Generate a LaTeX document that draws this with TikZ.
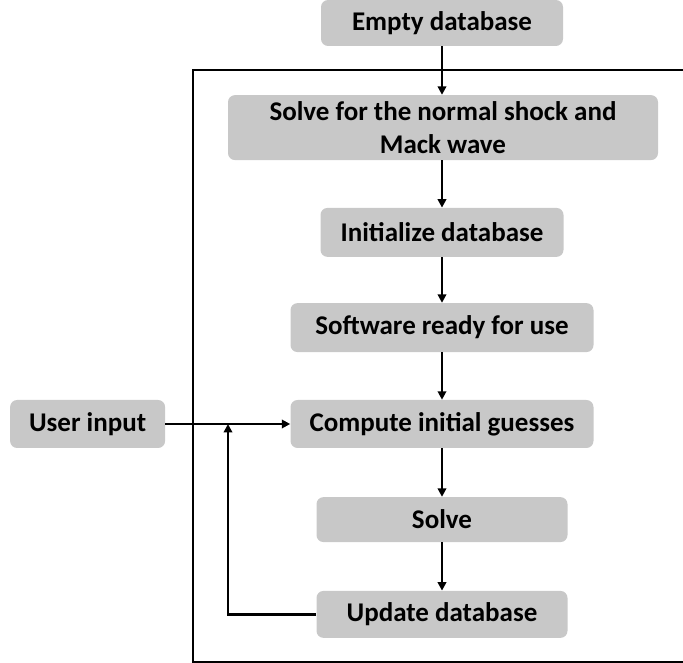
\documentclass[tikz,border=0pt]{standalone}
\usepackage{fontspec}
\setmainfont{Carlito}
\usetikzlibrary{arrows.meta}
\definecolor{boxgray}{RGB}{200,200,200}
\tikzset{
  box/.style={fill=boxgray, rounded corners=5pt, font=\bfseries\fontsize{19.2}{23}\selectfont,
    align=center, inner sep=2pt},
  flow/.style={line width=1.8pt, -{Triangle[length=6pt,width=6pt]}},
  wire/.style={line width=1.8pt}
}
\begin{document}
\begin{tikzpicture}
    \useasboundingbox (0,0) rectangle (17.075,-16.575);
    \draw[wire] (17.2,-1.75) -| (4.825,-16.55) -- (17.2,-16.55);
    \node[box, minimum width=6.05cm, minimum height=1.15cm] (empty) at (11.05,-0.575) {Empty database};
    \node[box, minimum width=10.75cm, minimum height=1.625cm] (shock) at (11.075,-3.19) {Solve for the normal shock and\\Mack wave};
    \node[box, minimum width=6.075cm, minimum height=1.225cm] (init) at (11.05,-5.81) {Initialize database};
    \node[box, minimum width=7.575cm, minimum height=1.225cm] (ready) at (11.05,-8.19) {Software ready for use};
    \node[box, minimum width=7.575cm, minimum height=1.2cm] (guess) at (11.05,-10.6) {Compute initial guesses};
    \node[box, minimum width=3.875cm, minimum height=1.2cm] (user) at (2.19,-10.6) {User input};
    \node[box, minimum width=6.275cm, minimum height=1.125cm] (solve) at (11.05,-12.99) {Solve};
    \node[box, minimum width=6.275cm, minimum height=1.175cm] (update) at (11.05,-15.36) {Update database};
    \coordinate (back) at (5.7,-10.6);
    \draw[flow] (empty) -- (shock.north -| empty);
    \draw[flow] (shock.south -| empty) -- (init);
    \draw[flow] (init) -- (ready);
    \draw[flow] (ready) -- (guess);
    \draw[flow] (guess) -- (solve);
    \draw[flow] (solve) -- (update);
    \draw[flow] (user) -- (guess);
    \draw[flow] (update.west) -| (back);
  \end{tikzpicture}
\end{document}
